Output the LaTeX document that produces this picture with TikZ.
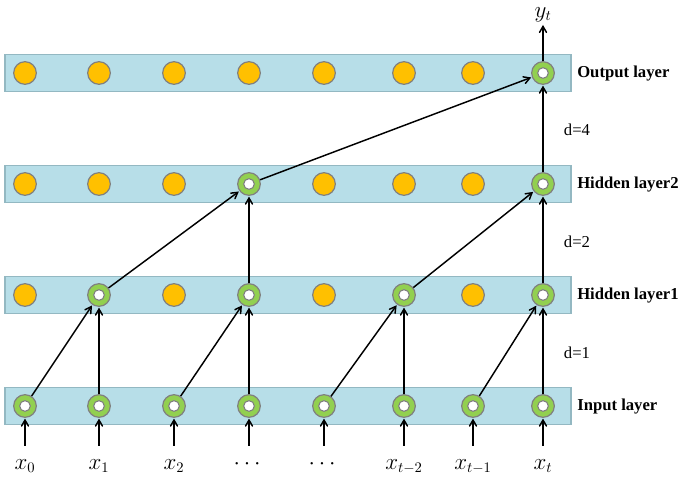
\documentclass[tikz,border=0pt]{standalone}
\usepackage{amsmath}
\usepackage{fontspec}
\setmainfont{Liberation Serif}
\usetikzlibrary{arrows}

\definecolor{bandblue}{HTML}{B7DEE8}
\definecolor{bandedge}{HTML}{93B8C2}
\definecolor{ringgreen}{HTML}{92D050}
\definecolor{dotorange}{HTML}{FFC000}
\definecolor{rimgray}{HTML}{808080}

\begin{document}
\begin{tikzpicture}[x=0.75pt, y=-0.75pt, >=angle 60,
    band/.style={draw=bandedge, fill=bandblue, line width=1pt, inner sep=0pt,
        minimum width=424.5pt, minimum height=27.5pt},
    dot/.style={circle, draw=rimgray, fill=dotorange, line width=0.9pt,
        minimum size=17pt, inner sep=0pt},
    ring/.style={circle, draw=rimgray, fill=ringgreen, line width=0.9pt,
        minimum size=17pt, inner sep=0pt,
        path picture={\draw[rimgray, fill=white, line width=0.8pt]
            (path picture bounding box.center) circle (4pt);}},
    layername/.style={anchor=west, inner sep=0pt, font=\fontsize{12.5}{14}\selectfont\bfseries},
    dist/.style={font=\fontsize{12.5}{15}\selectfont},
    var/.style={font=\fontsize{16}{18}\selectfont, text height=8pt, text depth=3pt},
    link/.style={->, line width=1.1pt, shorten >=0.5pt}]
\useasboundingbox (0,0) rectangle (685,481);

% layers
\node[band] (band-out) at (288,73) {};
\node[band] (band-h2) at (288,184) {};
\node[band] (band-h1) at (288,295) {};
\node[band] (band-in) at (288,406) {};
\node[layername] (name-out) at (577,74) {Output layer};
\node[layername] (name-h2) at (577,185) {Hidden layer2};
\node[layername] (name-h1) at (577,296) {Hidden layer1};
\node[layername] (name-in) at (577,407) {Input layer};

% units
\foreach \i/\x in {0/25, 1/99, 2/174, 3/249, 4/324, 5/404, 6/473, 7/543} {
    \node[ring] (in\i) at (\x,406) {};
}
\foreach \i/\x/\s in {0/25/dot, 1/99/ring, 2/174/dot, 3/249/ring,
                      4/324/dot, 5/404/ring, 6/473/dot, 7/543/ring} {
    \node[\s] (hA\i) at (\x,295) {};
}
\foreach \i/\x/\s in {0/25/dot, 1/99/dot, 2/174/dot, 3/249/ring,
                      4/324/dot, 5/404/dot, 6/473/dot, 7/543/ring} {
    \node[\s] (hB\i) at (\x,184) {};
}
\foreach \i/\x/\s in {0/25/dot, 1/99/dot, 2/174/dot, 3/249/dot,
                      4/324/dot, 5/404/dot, 6/473/dot, 7/543/ring} {
    \node[\s] (out\i) at (\x,73) {};
}

% inputs and output
\node[var] (x0) at (25,466) {$x_0$};
\node[var] (x1) at (99,466) {$x_1$};
\node[var] (x2) at (174,466) {$x_2$};
\node[var] (x3) at (249,466) {$\cdots$};
\node[var] (x4) at (324,466) {$\cdots$};
\node[var] (x5) at (404,466) {$x_{t-2}$};
\node[var] (x6) at (473,466) {$x_{t-1}$};
\node[var] (x7) at (543,466) {$x_t$};
\node[var, inner sep=1pt] (yt) at (543,14) {$y_t$};
\foreach \i in {0,...,7}
    \draw[link] ([yshift=6pt]x\i.north) -- (in\i);
\draw[link] (out7) -- ([yshift=-1pt]yt.south);

% dilations
\node[dist] (d1) at (577,353) {d=1};
\node[dist] (d2) at (577,242) {d=2};
\node[dist] (d4) at (577,130) {d=4};

% connections
\foreach \a/\b in {0/1, 1/1, 2/3, 3/3, 4/5, 5/5, 6/7, 7/7}
    \draw[link] (in\a) -- (hA\b);
\foreach \a/\b in {1/3, 3/3, 5/7, 7/7}
    \draw[link] (hA\a) -- (hB\b);
\foreach \a/\b in {3/7, 7/7}
    \draw[link] (hB\a) -- (out\b);
\end{tikzpicture}
\end{document}
